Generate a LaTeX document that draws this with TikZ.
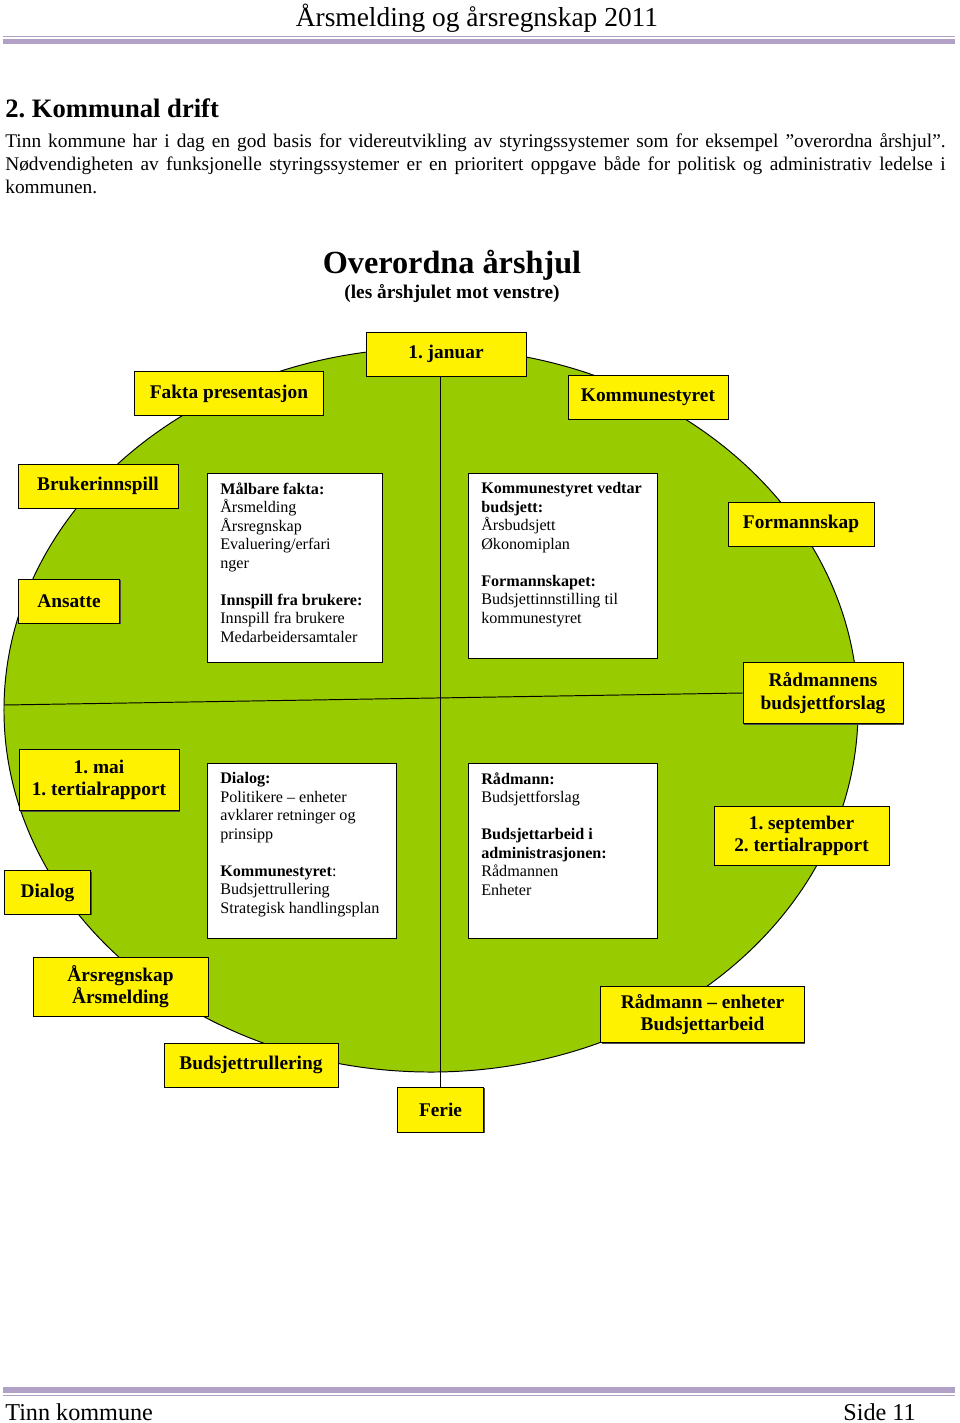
\documentclass[tikz,border=0pt]{standalone}
\usepackage{fontspec}
\setmainfont{Liberation Serif}
\usetikzlibrary{shapes.geometric,shadows}
\definecolor{wheelgreen}{RGB}{153,204,0}
\definecolor{lavender}{RGB}{178,161,199}
\frenchspacing

\begin{document}
\begin{tikzpicture}[x=0.62pt,y=-0.62pt]
\tikzstyle{ybox}=[rectangle, draw, line width=0.6pt, fill=yellow, align=center, inner sep=0pt,
    font=\fontsize{12}{13.8}\selectfont\bfseries,
    drop shadow={shadow xshift=0.6pt, shadow yshift=-0.6pt, fill=black!70, opacity=1}]
\tikzstyle{wbox}=[rectangle, draw, line width=0.6pt, fill=white, inner sep=0pt]
\tikzstyle{wtext}=[anchor=north west, inner sep=0pt, align=left, font=\fontsize{10}{11.5}\selectfont]
\useasboundingbox (0,0) rectangle (960,1423);

% header and intro
\node (head) at (477,18) {\fontsize{17}{20}\selectfont Årsmelding og årsregnskap 2011};
\fill[lavender] (3,35.5) rectangle (955,37);
\fill[lavender] (3,39) rectangle (955,44);

\node[anchor=west, inner sep=0pt, font=\fontsize{16.5}{19}\selectfont\bfseries] (chap) at (5,108) {2. Kommunal drift};
\node[anchor=north west, text width=583pt, align=justify, inner sep=0pt,
    font=\fontsize{12}{14.2}\selectfont] (intro) at (5,133)
    {Tinn kommune har i dag en god basis for videreutvikling av styringssystemer som for eksempel ”overordna årshjul”. Nødvendigheten av funksjonelle styringssystemer er en prioritert oppgave både for politisk og administrativ ledelse i \mbox{kommunen.}};

\node[font=\fontsize{20}{24}\selectfont\bfseries] (title) at (452,265) {Overordna årshjul};
\node[font=\fontsize{12}{14}\selectfont\bfseries] (subtitle) at (452,294) {(les årshjulet mot venstre)};

% the wheel
\node[ellipse, draw, line width=0.6pt, fill=wheelgreen, minimum width=529.5pt,
    minimum height=448.9pt, inner sep=0pt] (wheel) at (431,710) {};

\node[ybox, minimum width=99.2pt, minimum height=27.3pt] (jan) at (446,354) {1. januar};
\node[ybox, minimum width=53.9pt, minimum height=27.9pt] (ferie) at (440.5,1109.5) {Ferie};
\node[ybox, minimum width=99.2pt, minimum height=38.4pt] (radbud) at (823,693) {Rådmannens\\budsjettforslag};
\coordinate (hleft) at (4,705);

\draw[line width=0.6pt] (hleft) -- (radbud.west);
\draw[line width=0.6pt] (ferie.north |- jan.south) -- (ferie.north);

% yellow labels round the wheel
\node[ybox, minimum width=116.6pt, minimum height=26.7pt] (fakta) at (229,393.5) {Fakta presentasjon};
\node[ybox, minimum width=99.2pt, minimum height=26.7pt] (kstyre) at (648,397.5) {Kommunestyret};
\node[ybox, minimum width=99.2pt, minimum height=27.3pt] (bruker) at (98,486) {Brukerinnspill};
\node[ybox, minimum width=63.2pt, minimum height=27.3pt] (ansatte) at (69,601) {Ansatte};
\node[ybox, minimum width=90.5pt, minimum height=27.3pt] (formann) at (801,524) {Formannskap};
\node[ybox, minimum width=99.2pt, minimum height=38.4pt] (mai) at (99,780) {1. mai\\1. tertialrapport};
\node[ybox, minimum width=53.9pt, minimum height=26.7pt] (dialog) at (47.5,892.5) {Dialog};
\node[ybox, minimum width=108.5pt, minimum height=36pt] (sept) at (801.5,836) {1. september\\2. tertialrapport};
\node[ybox, minimum width=108.5pt, minimum height=36.6pt] (arsregn) at (120.5,986.5) {Årsregnskap\\Årsmelding};
\node[ybox, minimum width=107.9pt, minimum height=27.3pt] (budrull) at (251,1065) {Budsjettrullering};
\node[ybox, minimum width=125.9pt, minimum height=35.3pt] (radenh) at (702.5,1014.5) {Rådmann – enheter\\Budsjettarbeid};

% white boxes in the quarters
\node[wbox, minimum width=108.5pt, minimum height=117.2pt] (malbox) at (294.5,567.5) {};
\node[wtext] (maltxt) at (220,482) {\textbf{Målbare fakta:}\\Årsmelding\\Årsregnskap\\Evaluering/erfari\\nger\\[11.5pt]
    \textbf{Innspill fra brukere:}\\Innspill fra brukere\\Medarbeidersamtaler};

\node[wbox, minimum width=117.2pt, minimum height=114.7pt] (vedbox) at (562.5,565.5) {};
\node[wtext] (vedtxt) at (481,482) {\textbf{Kommunestyret vedtar}\\\textbf{budsjett:}\\Årsbudsjett\\Økonomiplan\\[11.5pt]
    \textbf{Formannskapet:}\\Budsjettinnstilling til\\kommunestyret};

\node[wbox, minimum width=117.2pt, minimum height=108.5pt] (dialbox) at (301.5,850.5) {};
\node[wtext] (dialtxt) at (220,772) {\textbf{Dialog:}\\Politikere – enheter\\avklarer retninger og\\prinsipp\\[11.5pt]
    \textbf{Kommunestyret}:\\Budsjettrullering\\Strategisk handlingsplan};

\node[wbox, minimum width=117.2pt, minimum height=108.5pt] (radbox) at (562.5,850.5) {};
\node[wtext] (radtxt) at (481,772) {\textbf{Rådmann:}\\Budsjettforslag\\[11.5pt]
    \textbf{Budsjettarbeid i}\\\textbf{administrasjonen:}\\Rådmannen\\Enheter};

% footer
\fill[lavender] (3,1387) rectangle (955,1393);
\fill[lavender] (3,1394.5) rectangle (955,1396);
\node[anchor=base west, inner sep=0pt, font=\fontsize{15}{18}\selectfont] (foot) at (5,1420) {Tinn kommune};
\node[anchor=base east, inner sep=0pt, font=\fontsize{15}{18}\selectfont] (page) at (916,1420) {Side 11};
\end{tikzpicture}
\end{document}
